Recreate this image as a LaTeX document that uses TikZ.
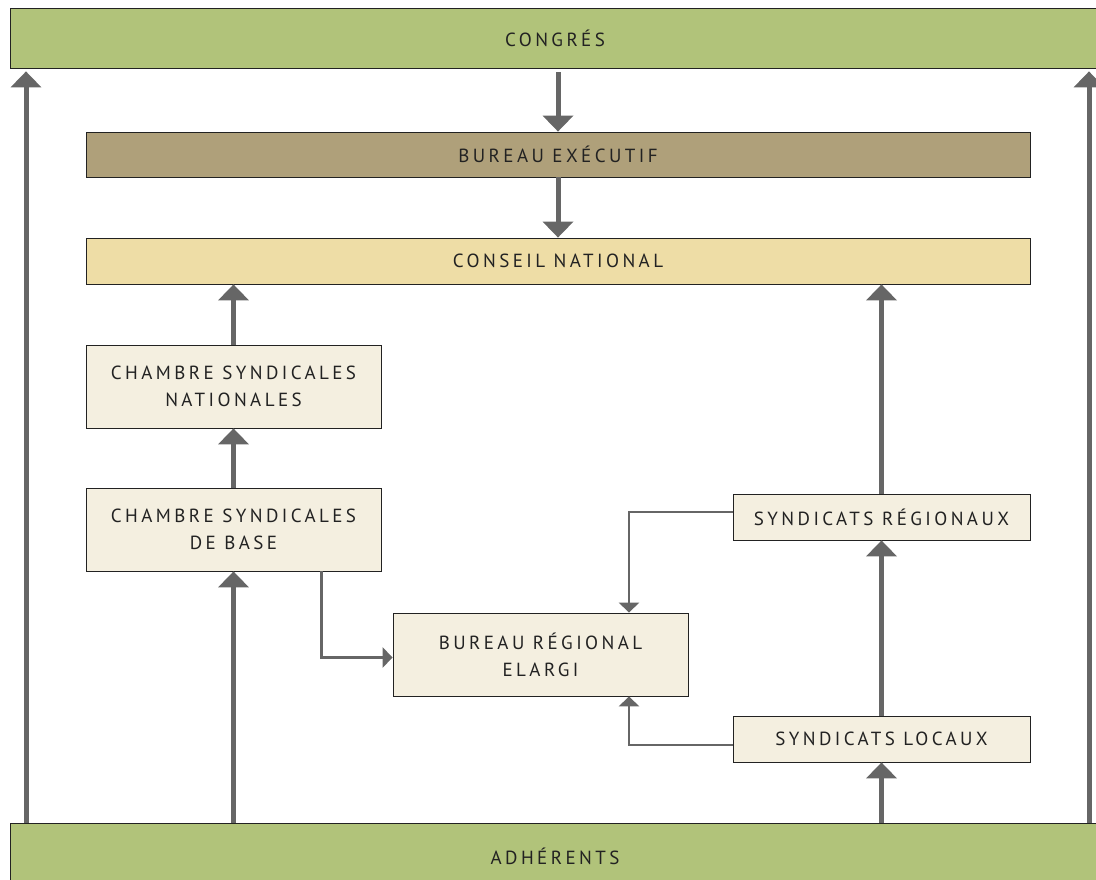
\documentclass[tikz,border=0pt]{standalone}
\usepackage{fontspec}
\setmainfont{PT Sans}[LetterSpace=18]
\usetikzlibrary{arrows.meta}
\definecolor{congreen}{HTML}{B1C37A}
\definecolor{bureaubrown}{HTML}{AFA07A}
\definecolor{conseilyellow}{HTML}{EEDDA6}
\definecolor{boxcream}{HTML}{F4EFE0}
\definecolor{arrowgray}{HTML}{666666}
\definecolor{textdark}{HTML}{222222}
\begin{document}
\begin{tikzpicture}[x=1pt,y=-1pt]
  \def\lw{5pt}
  \def\tw{2.5pt}

\tikzstyle{box}=[draw=textdark,line width=0.8pt,text=textdark,font=\fontsize{19}{27}\selectfont,align=center,inner sep=0pt]
\tikzstyle{bigbar}=[box,fill=congreen,minimum width=1090pt,minimum height=60pt]
\tikzstyle{unit}=[box,fill=boxcream,minimum width=295pt,minimum height=83pt]
\tikzstyle{small}=[box,fill=boxcream,minimum width=297pt,minimum height=46pt]
\tikzstyle{thick}=[draw=arrowgray,line width=\lw,-{Triangle[width=30pt,length=16pt]}]
\tikzstyle{thin}=[draw=arrowgray,line width=\tw,-{Triangle[width=20pt,length=10pt]}]
\useasboundingbox (0,0) rectangle (1096,880);
\node[bigbar] (congres) at (555,38) {CONGRÉS};
\node[box,fill=bureaubrown,minimum width=944pt,minimum height=45pt] (bureau) at (558,154.5) {BUREAU EXÉCUTIF};
\node[box,fill=conseilyellow,minimum width=944pt,minimum height=46pt] (conseil) at (558,261) {CONSEIL NATIONAL};
\node[unit] (chnat) at (233.5,386.5) {CHAMBRE SYNDICALES\\NATIONALES};
\node[unit] (chbase) at (233.5,529.5) {CHAMBRE SYNDICALES\\DE BASE};
\node[unit] (breg) at (540.5,654.5) {BUREAU RÉGIONAL\\ELARGI};
\node[small] (sreg) at (881.5,517) {SYNDICATS RÉGIONAUX};
\node[small] (sloc) at (881.5,739) {SYNDICATS LOCAUX};
\node[bigbar,minimum height=67pt] (adh) at (555,856.5) {ADHÉRENTS};
\draw[thick,shorten <=4pt] (congres.south -| bureau.north) -- (bureau.north);
\draw[thick] (bureau.south) -- (conseil.north);
\draw[thick] (chnat.north) -- (chnat.north |- conseil.south);
\draw[thick] (chbase.north) -- (chnat.south);
\draw[thick] (chbase.south |- adh.north) -- (chbase.south);
\draw[thick] (sreg.north) -- (sreg.north |- conseil.south);
\draw[thick] (sloc.north) -- (sreg.south);
\draw[thick] (sloc.south |- adh.north) -- (sloc.south);
\draw[thick,shorten >=3pt] (adh.north -| 26,0) -- (congres.south -| 26,0);
\draw[thick,shorten >=3pt] (adh.north -| 1089,0) -- (congres.south -| 1089,0);
\draw[thin] ([xshift=88pt]chbase.south) |- ([yshift=-3pt]breg.west);
\draw[thin] ([yshift=5pt]sreg.west) -| ([xshift=88.5pt]breg.north);
\draw[thin] ([yshift=-6pt]sloc.west) -| ([xshift=88.5pt]breg.south);
\end{tikzpicture}
\end{document}
